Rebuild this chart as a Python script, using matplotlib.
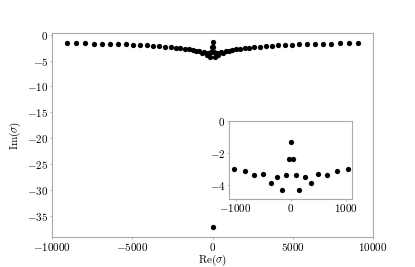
import numpy as np
import matplotlib
matplotlib.use("Agg")
import matplotlib.pyplot as plt

plt.rcParams["font.family"] = "serif"
plt.rcParams["font.serif"] = ["cmr10"]
plt.rcParams["mathtext.fontset"] = "cm"
plt.rcParams["axes.formatter.use_mathtext"] = True
plt.rcParams["font.size"] = 8

# one half of the spectrum (negative real part), mirrored below
re_half = [-9083, -8523, -7943, -7401, -6884, -6367, -5869, -5389, -4934, -4498,
           -4081, -3688, -3315, -2941, -2604, -2293, -2006, -1732, -1483, -1234,
           -1030, -836, -661, -503, -364, -255, -152, -91, -40]
im_half = [-1.60, -1.60, -1.65, -1.70, -1.72, -1.75, -1.80, -1.85, -1.90, -1.97,
           -2.05, -2.12, -2.20, -2.30, -2.40, -2.50, -2.60, -2.70, -2.80, -2.92,
           -3.04, -3.13, -3.42, -3.35, -3.90, -3.54, -4.31, -3.375, -2.40]
# points on the imaginary axis
re_mid = [0, 0]
im_mid = [-1.31, -37.3]

re = np.concatenate([re_half, -np.array(re_half)[::-1], re_mid])
im = np.concatenate([im_half, np.array(im_half)[::-1], im_mid])

fig = plt.figure(figsize=(4.15, 2.67), dpi=100)
ax = fig.add_axes([0.1253, 0.1112, 0.7735, 0.7641])
ax.plot(re, im, "o", color="black", ms=3.8, mew=0)
ax.set_xlim(-10000, 10000)
ax.set_ylim(-39.2, 0.3)
ax.set_xticks([-10000, -5000, 0, 5000, 10000])
ax.set_yticks([0, -5, -10, -15, -20, -25, -30, -35])
ax.set_xlabel(r"$\mathrm{Re}(\sigma)$", labelpad=0)
ax.set_ylabel(r"$\mathrm{Im}(\sigma)$", labelpad=3)

ins = fig.add_axes([0.5518, 0.2547, 0.2957, 0.2933])
ins.plot(re, im, "o", color="black", ms=3.8, mew=0)
ins.set_xlim(-1118, 1105)
ins.set_ylim(-4.9, 0)
ins.set_xticks([-1000, 0, 1000])
ins.set_yticks([0, -2, -4])

for a in (ax, ins):
    for s in a.spines.values():
        s.set_color("#aaaaaa")
        s.set_linewidth(0.8)
    a.tick_params(length=1.5, width=0.6, color="#aaaaaa", pad=1)

fig.savefig("out.png", dpi=100)
